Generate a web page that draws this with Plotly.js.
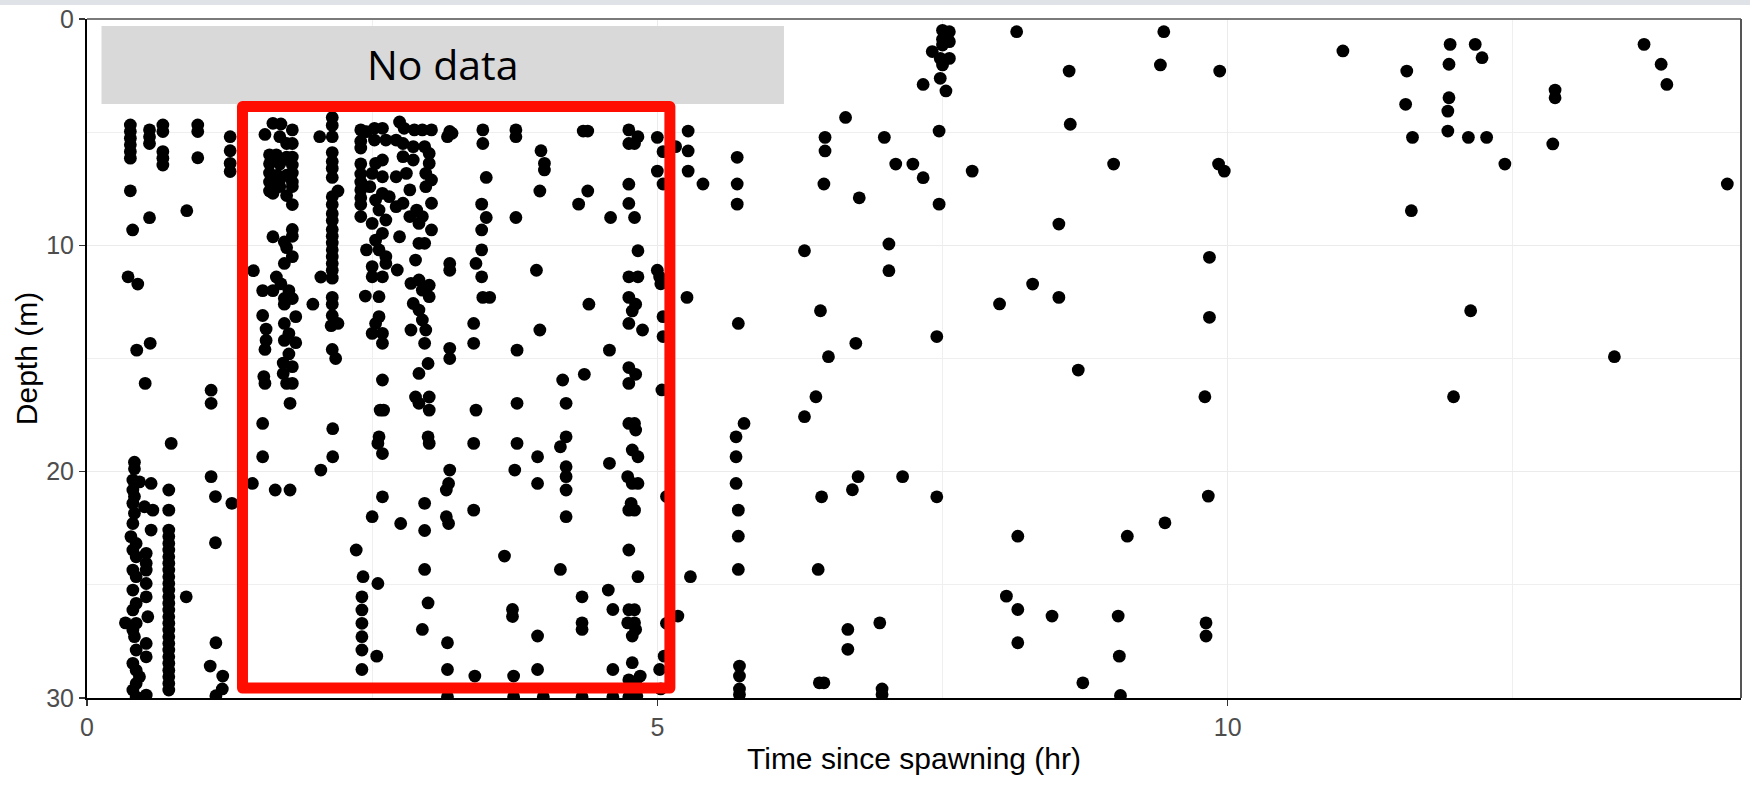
<!DOCTYPE html>
<html>
<head>
<meta charset="utf-8">
<script src="https://cdn.plot.ly/plotly-3.0.1.min.js"></script>
<style>
  html, body { margin:0; padding:0; background:#fff; }
  #wrap { position:relative; width:1750px; height:786px; }
  #band { position:absolute; left:0; top:0; width:1750px; height:5px; background:#dfe3e8; z-index:5; }
  #chart { position:absolute; left:0; top:0; width:1750px; height:786px; }
  .shapelayer path { stroke-linejoin: round; }
</style>
</head>
<body>
<div id="wrap"><div id="band"></div><div id="chart"></div></div>
<script>
// Time since spawning (hr), depth (m) pairs
const earlyPoints = [
  [0.38,4.68],[0.38,4.97],[0.38,5.27],[0.38,5.56],[0.38,5.86],[0.38,6.15],[0.38,7.59],[0.40,9.32],[0.36,11.39],[0.445,11.71],
  [0.548,4.9],[0.548,5.2],[0.548,5.5],[0.548,8.78],
  [0.665,4.68],[0.665,4.97],[0.665,5.86],[0.665,6.15],[0.665,6.45],
  [0.875,8.47],[0.971,4.68],[0.971,4.97],[0.971,6.13],
  [1.255,5.2],[1.255,5.82],[1.255,6.38],[1.255,6.74],
  [0.554,14.33],[0.436,14.63],[0.51,16.1],[1.088,16.4],[1.088,16.98],[0.738,18.75],
  [1.088,20.22],[1.126,21.1],[1.27,21.4],[1.126,23.14],[0.87,25.53],[0.337,26.68],[1.13,27.56],[1.08,28.59],[1.19,29.03],[1.186,29.6],[1.13,29.9],
  [0.416,19.58],[0.416,19.87],[0.402,20.37],[0.46,20.45],[0.562,20.52],[0.402,20.81],[0.416,21.1],[0.402,21.4],[0.504,21.55],[0.577,21.7],
  [0.416,21.84],[0.402,22.29],[0.562,22.58],[0.385,22.87],[0.431,23.17],[0.402,23.46],[0.519,23.61],[0.431,23.76],[0.519,24.05],[0.402,24.35],
  [0.519,24.35],[0.431,24.64],[0.519,24.94],[0.402,25.23],[0.519,25.53],[0.431,25.82],[0.402,26.11],[0.533,26.41],[0.431,26.7],[0.402,27.0],
  [0.416,27.29],[0.519,27.59],[0.431,27.88],[0.519,28.18],[0.402,28.47],[0.431,28.77],[0.46,29.06],[0.431,29.36],[0.402,29.65],[0.519,29.87],[0.431,29.95],
  [0.717,20.81],[0.717,21.7],[0.717,22.58],[0.717,22.87],[0.717,23.17],[0.717,23.46],[0.717,23.76],[0.717,24.05],[0.717,24.35],[0.717,24.64],
  [0.717,24.94],[0.717,25.23],[0.717,25.53],[0.717,25.82],[0.717,26.11],[0.717,26.41],[0.717,26.7],[0.717,27.0],[0.717,27.29],[0.717,27.59],
  [0.717,27.88],[0.717,28.18],[0.717,28.47],[0.717,28.77],[0.717,29.06],[0.717,29.36],[0.717,29.65]
];

const boxPoints = [
  [1.63,4.61],[1.70,4.64],[1.56,5.10],[1.80,4.90],[1.69,5.20],[1.75,5.50],[1.80,5.50],[1.60,6.00],[1.66,6.00],[1.75,6.10],[1.80,6.10],
  [1.60,6.40],[1.69,6.40],[1.80,6.45],[1.60,6.80],[1.67,6.90],[1.75,6.90],[1.80,6.80],[1.60,7.20],[1.69,7.10],[1.80,7.20],[1.60,7.60],
  [1.69,7.40],[1.80,7.40],[1.63,7.70],[1.75,7.80],[1.80,8.20],
  [1.63,9.62],[1.80,9.30],[1.80,9.60],[1.73,9.85],[1.75,10.10],[1.80,10.50],[1.73,10.80],
  [1.459,11.12],[1.66,11.40],[1.70,11.70],[1.77,12.00],[1.73,12.35],[1.80,12.35],[1.73,12.60],[1.54,12.00],[1.63,12.00],[1.98,12.60],
  [1.54,13.10],[1.57,13.70],[1.57,14.20],[1.56,14.60],
  [1.73,13.45],[1.83,13.15],[1.77,13.90],[1.73,14.20],[1.83,14.30],[1.77,14.80],[1.72,15.20],[1.80,15.36],
  [1.55,15.80],[1.56,16.10],[1.72,15.66],[1.75,16.10],[1.80,16.10],[1.78,16.98],[1.54,17.87],[1.54,19.34],[1.45,20.52],[1.65,20.81],[1.78,20.81],
  [2.15,4.35],[2.15,4.70],[2.04,5.20],[2.15,5.20],[2.15,5.90],[2.15,6.30],[2.15,6.60],[2.15,7.00],[2.20,7.60],[2.15,7.85],[2.15,8.20],
  [2.15,8.60],[2.15,8.90],[2.15,9.30],[2.15,9.60],[2.15,9.90],[2.15,10.20],[2.15,10.50],[2.15,10.80],[2.15,11.10],[2.15,11.45],[2.05,11.40],
  [2.15,12.30],[2.15,12.60],[2.15,13.10],[2.20,13.45],[2.14,13.55],[2.15,14.60],[2.18,15.00],[2.154,18.10],[2.154,19.34],[2.05,19.93],
  [2.40,4.90],[2.40,5.40],[2.40,5.70],[2.40,6.40],[2.40,6.85],[2.40,7.20],[2.40,7.55],[2.40,7.90],[2.40,8.20],[2.40,8.73],[2.45,4.98],[2.45,10.20],[2.44,12.24],
  [2.52,4.83],[2.59,4.83],[2.74,4.55],[2.78,4.83],[2.87,4.9],[2.94,4.9],[3.02,4.9],
  [2.52,5.35],[2.62,5.35],[2.71,5.35],[2.77,5.5],[2.86,5.64],[2.96,5.64],[3.0,5.94],
  [2.53,6.38],[2.59,6.23],[2.77,6.08],[2.86,6.23],[3.0,6.38],
  [2.5,6.82],[2.59,6.97],[2.71,6.97],[2.8,6.82],[2.97,6.82],[3.02,7.11],
  [2.48,7.41],[2.59,7.7],[2.65,7.85],[2.83,7.55],[2.97,7.41],
  [2.53,8.0],[2.56,8.44],[2.71,8.29],[2.77,8.14],[2.89,8.44],[2.94,8.73],[3.02,8.14],
  [2.5,9.03],[2.62,8.88],[2.83,8.73],[2.91,9.03],[3.02,9.32],
  [2.53,9.77],[2.59,9.47],[2.74,9.62],[2.91,9.91],[2.96,9.91],
  [2.56,10.2],[2.62,10.5],[2.5,10.94],[2.62,10.8],[2.72,11.09],[2.88,10.65],
  [2.5,11.39],[2.59,11.39],[2.84,11.68],[2.91,11.53],[3.0,11.76],[2.94,11.98],
  [2.56,12.27],[3.0,12.27],[2.86,12.57],[2.91,12.86],[2.56,13.15],[2.94,13.3],[2.53,13.45],
  [2.5,13.89],[2.59,13.89],[2.84,13.74],[2.97,13.74],[2.59,14.33],[2.96,14.33],[2.99,15.22],[2.91,15.66],
  [3.18,4.97],[3.16,5.2],[3.2,5.05],[3.47,4.9],[3.47,5.5],[3.76,4.9],[3.76,5.2],[3.98,5.82],[4.01,6.38],[4.01,6.67],
  [4.39,4.95],[4.35,4.95],[4.75,4.9],[4.83,5.2],[4.75,5.5],[4.8,5.5],
  [3.5,7.0],[3.97,7.6],[4.39,7.6],[4.31,8.18],[4.75,7.3],[4.75,8.15],[3.46,8.18],[3.5,8.77],[3.76,8.77],[4.59,8.77],[4.8,8.77],
  [3.46,9.32],[3.46,10.2],[3.41,10.8],[3.46,11.39],[3.18,10.8],[3.18,11.1],[3.94,11.1],[4.83,10.24],[4.75,11.39],[4.83,11.39],
  [3.47,12.3],[3.53,12.3],[4.40,12.6],[4.75,12.3],[4.81,12.6],[4.78,12.9],[3.39,13.45],[3.97,13.74],[4.75,13.45],[4.87,13.74],
  [3.39,14.33],[3.77,14.63],[4.58,14.63],[3.18,14.55],[3.18,15.0],[4.75,15.4],[4.81,15.7],[4.36,15.7],[4.17,15.95],
  [2.59,15.95],[2.88,16.7],[2.91,16.98],[3.0,16.7],[3.0,17.28],[2.57,17.28],[2.60,17.28],[2.56,18.46],[2.55,18.75],[2.59,19.2],
  [2.99,18.46],[3.0,18.75],[3.41,17.28],[3.39,18.75],[3.77,16.98],[3.77,18.75],[3.75,19.93],[3.95,19.34],[3.95,20.52],
  [4.2,16.98],[4.2,18.46],[4.15,18.9],[4.2,19.78],[4.2,20.22],[4.2,20.81],[4.2,21.99],[4.58,19.63],
  [4.75,16.1],[4.75,17.87],[4.8,17.87],[4.81,18.16],[4.78,19.04],[4.83,19.34],[4.74,20.22],[4.78,20.52],[4.83,20.52],
  [4.77,21.4],[4.75,21.7],[4.8,21.7],[4.75,23.46],[4.83,24.64],[4.57,25.23],[4.61,26.09],[4.75,26.1],[4.8,26.1],
  [4.74,26.68],[4.8,26.68],[4.81,26.97],[4.78,27.26],[4.78,28.44],[4.85,29.03],[4.75,29.2],[4.81,29.35],[4.61,28.74],
  [3.18,19.93],[3.17,20.52],[3.15,20.81],[3.15,21.99],[3.17,22.29],[3.39,21.7],[2.96,21.4],[2.96,22.6],[2.75,22.29],[2.50,21.99],[2.59,21.11],
  [2.36,23.46],[2.42,24.64],[2.55,24.94],[2.41,25.53],[2.41,26.11],[2.41,26.7],[2.41,27.29],[2.41,27.88],[2.41,28.74],[2.54,28.15],
  [2.96,24.32],[2.99,25.8],[2.94,26.97],[3.16,27.56],[3.16,28.74],[3.40,29.03],[3.66,23.73],[3.73,26.09],[3.73,26.4],
  [3.95,27.26],[3.95,28.74],[3.74,29.03],[4.15,24.32],[4.34,25.53],[4.34,26.68],[4.34,26.97],
  [3.16,29.95],[3.74,29.95],[4.0,29.95],[4.34,29.95],[4.61,29.95],[4.75,29.95],[4.82,29.9]
];

const latePoints = [
  [5.0,5.23],[5.05,5.86],[5.16,5.64],[5.27,4.95],[5.27,5.83],[5.0,6.72],[5.05,7.29],[5.27,6.72],[5.40,7.29],[5.70,6.11],[5.70,7.29],[5.70,8.18],
  [6.47,5.23],[6.47,5.83],[6.46,7.29],[6.65,4.35],[6.77,7.9],[6.99,5.23],[7.09,6.41],[7.24,6.41],[7.33,7.01],[7.47,4.95],[7.47,8.18],
  [7.33,2.89],[7.50,0.5],[7.56,0.56],[7.50,0.9],[7.56,1.0],[7.50,1.15],[7.41,1.44],[7.48,1.74],[7.56,1.74],[7.50,2.03],[7.48,2.62],[7.53,3.18],
  [6.29,10.24],[7.03,9.94],[7.03,11.12],[5.0,11.1],[5.02,11.4],[5.03,11.7],[5.26,12.3],[5.05,13.15],[5.05,14.03],[5.71,13.45],
  [6.43,12.89],[6.74,14.33],[6.50,14.92],[7.45,14.03],
  [8.15,0.56],[9.44,0.56],[9.41,2.03],[8.61,2.3],[9.93,2.3],[8.62,4.65],[7.76,6.72],[9.0,6.41],[9.92,6.41],[9.97,6.72],
  [8.52,9.06],[9.84,10.53],[8.29,11.71],[8.0,12.59],[8.52,12.3],[9.84,13.18],[8.69,15.51],
  [11.01,1.41],[11.95,1.12],[12.17,1.12],[12.23,1.71],[11.94,2.0],[11.57,2.3],[11.56,3.77],[11.94,3.48],[11.93,4.07],[11.93,4.95],
  [11.62,5.23],[12.11,5.23],[12.27,5.23],[12.43,6.41],[11.61,8.47],[12.13,12.89],
  [13.65,1.12],[13.80,2.0],[13.85,2.89],[12.87,3.14],[12.87,3.48],[12.85,5.52],[14.38,7.29],[13.39,14.92],
  [11.98,16.69],[9.80,16.69],[9.83,21.08],[9.45,22.26],[8.16,22.85],[9.12,22.85],[8.06,25.5],[8.16,26.09],[8.46,26.38],[9.04,26.38],
  [9.81,26.68],[9.81,27.26],[8.16,27.56],[9.05,28.15],[8.73,29.33],[9.06,29.89],
  [5.04,16.39],[6.39,16.69],[6.29,17.57],[5.76,17.87],[5.69,18.46],[5.69,19.34],[5.69,20.52],[5.71,21.7],[5.71,22.85],[5.71,24.32],
  [5.08,21.1],[6.44,21.11],[6.71,20.8],[6.76,20.22],[7.15,20.22],[7.45,21.11],[5.29,24.64],[6.41,24.32],[5.18,26.38],[5.08,26.7],
  [6.67,26.97],[6.67,27.85],[6.95,26.68],[5.72,28.59],[5.72,29.03],[5.72,29.6],[5.72,29.85],[6.42,29.33],[6.46,29.33],
  [6.97,29.6],[6.97,29.85],[5.06,28.15],[5.02,28.74],[5.03,29.6]
];

const xTickVals = [0, 5, 10];
const yTickVals = [0, 10, 20, 30];
const noDataBox = { t0: 0.127, t1: 6.11, d0: 0.31, d1: 3.76, label: "No data" };
const highlightBox = { t0: 1.363, t1: 5.11, d0: 3.87, d1: 29.56 };

const AXFONT = "Liberation Sans, Arial, Helvetica, sans-serif";

function toTrace(points) {
  return {
    type: 'scatter', mode: 'markers',
    x: points.map(p => p[0]), y: points.map(p => p[1]),
    marker: { color: '#000000', size: 12.8, line: { width: 0 } },
    hoverinfo: 'x+y', showlegend: false, cliponaxis: true
  };
}

const data = [toTrace(earlyPoints), toTrace(boxPoints), toTrace(latePoints)];

const layout = {
  width: 1750, height: 786,
  margin: { l: 87, r: 9, t: 19, b: 88, pad: 0 },
  paper_bgcolor: '#ffffff', plot_bgcolor: '#ffffff',
  showlegend: false,
  xaxis: {
    range: [0, 14.5], tickmode: 'array', tickvals: xTickVals, ticktext: xTickVals.map(String),
    showgrid: true, gridcolor: '#ebebeb', gridwidth: 1.5,
    minor: { tickmode: 'array', tickvals: [2.5, 7.5, 12.5], showgrid: true, gridcolor: '#efefef', gridwidth: 1, ticks: '' },
    zeroline: false, showline: true, linecolor: '#000000', linewidth: 2,
    ticks: 'outside', ticklen: 6, tickwidth: 1.5, tickcolor: '#333333',
    tickfont: { family: AXFONT, size: 25, color: '#4d4d4d' },
    title: { text: 'Time since spawning (hr)', font: { family: AXFONT, size: 30, color: '#000000' }, standoff: 8 },
    automargin: false
  },
  yaxis: {
    range: [30, 0], tickmode: 'array', tickvals: yTickVals, ticktext: yTickVals.map(String),
    showgrid: true, gridcolor: '#ebebeb', gridwidth: 1.5,
    minor: { tickmode: 'array', tickvals: [5, 15, 25], showgrid: true, gridcolor: '#efefef', gridwidth: 1, ticks: '' },
    zeroline: false, showline: true, linecolor: '#000000', linewidth: 2,
    ticks: 'outside', ticklen: 6, tickwidth: 1.5, tickcolor: '#333333',
    tickfont: { family: AXFONT, size: 25, color: '#4d4d4d' },
    title: { text: 'Depth (m)', font: { family: AXFONT, size: 30, color: '#000000' }, standoff: 0 },
    automargin: false
  },
  shapes: [
    { type: 'rect', xref: 'x', yref: 'y', x0: noDataBox.t0, x1: noDataBox.t1, y0: noDataBox.d0, y1: noDataBox.d1,
      fillcolor: '#d9d9d9', line: { width: 0 }, layer: 'between' },
    { type: 'rect', xref: 'x', yref: 'y', x0: highlightBox.t0, x1: highlightBox.t1, y0: highlightBox.d0, y1: highlightBox.d1,
      fillcolor: 'rgba(0,0,0,0)', line: { color: '#ff0d00', width: 11 }, layer: 'above' },
    { type: 'line', xref: 'paper', yref: 'paper', x0: 0, x1: 1, y0: 1, y1: 1, line: { color: '#7a7a7a', width: 2 }, layer: 'above' },
    { type: 'line', xref: 'paper', yref: 'paper', x0: 1, x1: 1, y0: 0, y1: 1, line: { color: '#555555', width: 2 }, layer: 'above' }
  ],
  annotations: [
    { xref: 'x', yref: 'y', x: (noDataBox.t0 + noDataBox.t1) / 2, y: 2.0, text: noDataBox.label, showarrow: false,
      xanchor: 'center', yanchor: 'middle', font: { family: 'Open Sans, Noto Sans, sans-serif', size: 41, color: '#000000' } }
  ]
};

Plotly.newPlot('chart', data, layout, { displayModeBar: false, staticPlot: true });
</script>
</body>
</html>
